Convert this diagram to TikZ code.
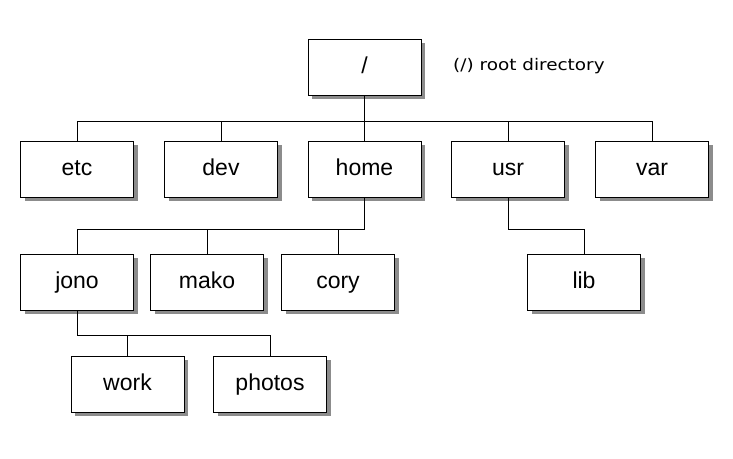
\documentclass[tikz,border=0pt]{standalone}
\usepackage{fontspec}
\setmainfont{Liberation Sans}
\newfontfamily\labelfont[FakeStretch=1.15]{DejaVu Sans}
\usetikzlibrary{shadows}
\begin{document}
\begin{tikzpicture}[x=1pt,y=-1pt,
  dirbox/.style={draw=black, line width=1pt, fill=white, minimum width=113pt, minimum height=56pt,
    inner sep=0pt, text height=16pt, text depth=3pt, font=\fontsize{23}{27}\selectfont,
    drop shadow={shadow xshift=4pt, shadow yshift=-4pt, fill=black!45, opacity=1}},
  link/.style={draw=black, line width=1pt}]
\useasboundingbox (0,0) rectangle (733,458);
\fill[white] (0,0) rectangle (733,458);
\coordinate (b1) at (0,121);
\coordinate (b2) at (0,229);
\coordinate (b3) at (0,335);
% nodes
\node[dirbox] (root) at (364.5,67) {/};
\node[anchor=base west, inner sep=0pt, font=\labelfont\fontsize{16}{19}\selectfont] (rootlbl) at (453,70) {(/) root directory};
\node[dirbox] (etc) at (77,169) {etc};
\node[dirbox] (dev) at (221,169) {dev};
\node[dirbox] (home) at (364.5,169) {home};
\node[dirbox] (usr) at (508,169) {usr};
\node[dirbox] (var) at (652,169) {var};
\node[dirbox] (jono) at (77,282) {jono};
\node[dirbox] (mako) at (207,282) {mako};
\node[dirbox] (cory) at (338,282) {cory};
\node[dirbox] (lib) at (584,282) {lib};
\node[dirbox] (work) at (127.5,384) {work};
\node[dirbox] (photos) at (270,384) {photos};
% connectors
\foreach \c in {etc,dev,home,usr,var}
  \draw[link] (root.south) |- (\c.north |- b1) -- (\c.north);
\foreach \c in {jono,mako,cory}
  \draw[link] (home.south) |- (\c.north |- b2) -- (\c.north);
\draw[link] (usr.south) |- (lib.north |- b2) -- (lib.north);
\foreach \c in {work,photos}
  \draw[link] (jono.south) |- (\c.north |- b3) -- (\c.north);
\end{tikzpicture}
\end{document}
